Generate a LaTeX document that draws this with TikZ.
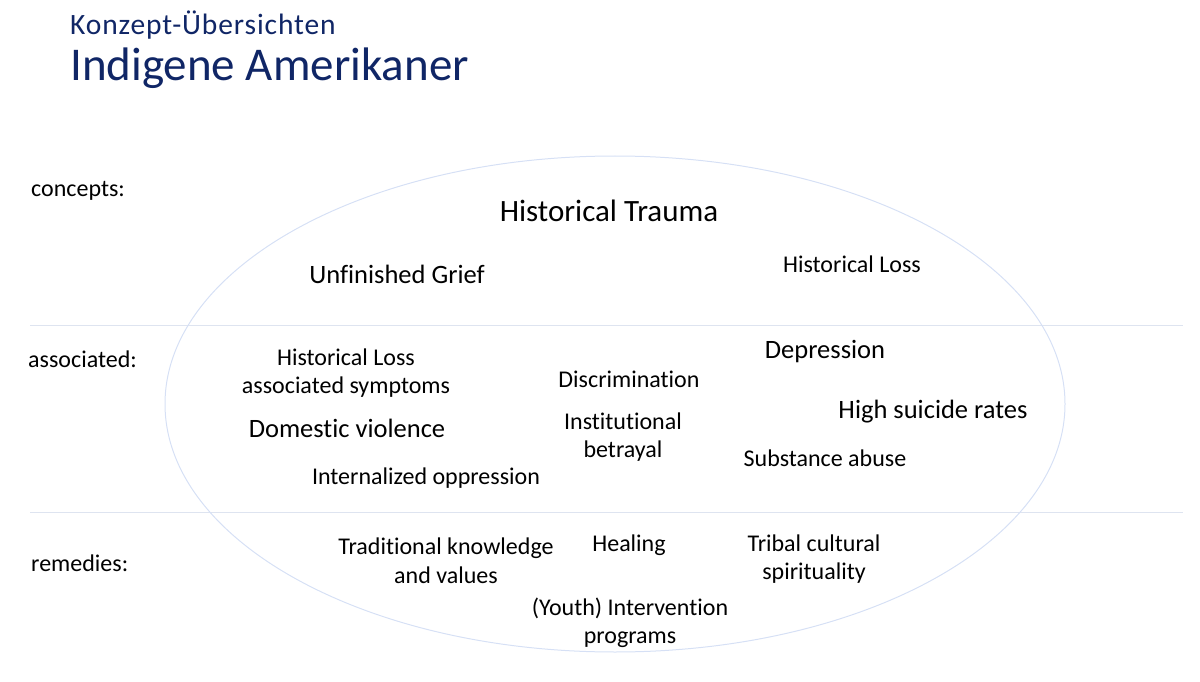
\documentclass[tikz,border=0pt]{standalone}
\usepackage{fontspec}
\setmainfont{Carlito}[Ligatures={NoCommon}]
\definecolor{navy}{RGB}{16,38,102}
\definecolor{rule}{RGB}{222,228,240}
\definecolor{oval}{RGB}{214,224,245}
\begin{document}
\begin{tikzpicture}[x=1pt,y=-1pt,
  small/.style={inner sep=0pt,align=center,font=\fontsize{24}{28.5}\selectfont},
  big/.style={inner sep=0pt,align=center,font=\fontsize{26.5}{30}\selectfont},
  row/.style={inner sep=0pt,anchor=west,font=\fontsize{24}{28}\selectfont}]
\useasboundingbox (0,0) rectangle (1200,682);
\node[inner sep=0pt,anchor=base west,text=navy,font=\fontsize{29.5}{32}\selectfont\addfontfeatures{LetterSpace=3}] (T1) at (70,35) {Konzept-Übersichten};
\node[inner sep=0pt,anchor=base west,text=navy,font=\fontsize{47}{50}\selectfont] (T2) at (70,81) {Indigene Amerikaner};
\draw[rule,line width=1pt] (30,325) -- (1183,325);
\draw[rule,line width=1pt] (30,512) -- (1183,512);
\draw[oval,line width=1pt] (615,404) ellipse (450 and 248);
\node[row] (C) at (31,191) {concepts:};
\node[row] (A) at (28,359) {associated:};
\node[row] (R) at (31,563) {remedies:};
\node[big,font=\fontsize{31}{34}\selectfont] (HT) at (609,211) {Historical Trauma};
\node[big] (UG) at (397,274) {Unfinished Grief};
\node[small] (HL) at (852,264) {Historical Loss};
\node[small] (HLS) at (346,373) {Historical Loss\\associated symptoms};
\node[small] (DI) at (629,379) {Discrimination};
\node[big] (DE) at (825,352) {Depression};
\node[big] (HS) at (933,412) {High suicide rates};
\node[big] (DV) at (347,428) {Domestic violence};
\node[small] (IB) at (623,437) {Institutional\\betrayal};
\node[small] (SA) at (825,458) {Substance abuse};
\node[small] (IO) at (426,478) {Internalized oppression};
\node[small] (TK) at (446,561) {Traditional knowledge\\and values};
\node[small] (HE) at (629,545) {Healing};
\node[small] (TC) at (814,559) {Tribal cultural\\spirituality};
\node[small] (YI) at (630,623) {(Youth) Intervention\\programs};
\end{tikzpicture}
\end{document}
